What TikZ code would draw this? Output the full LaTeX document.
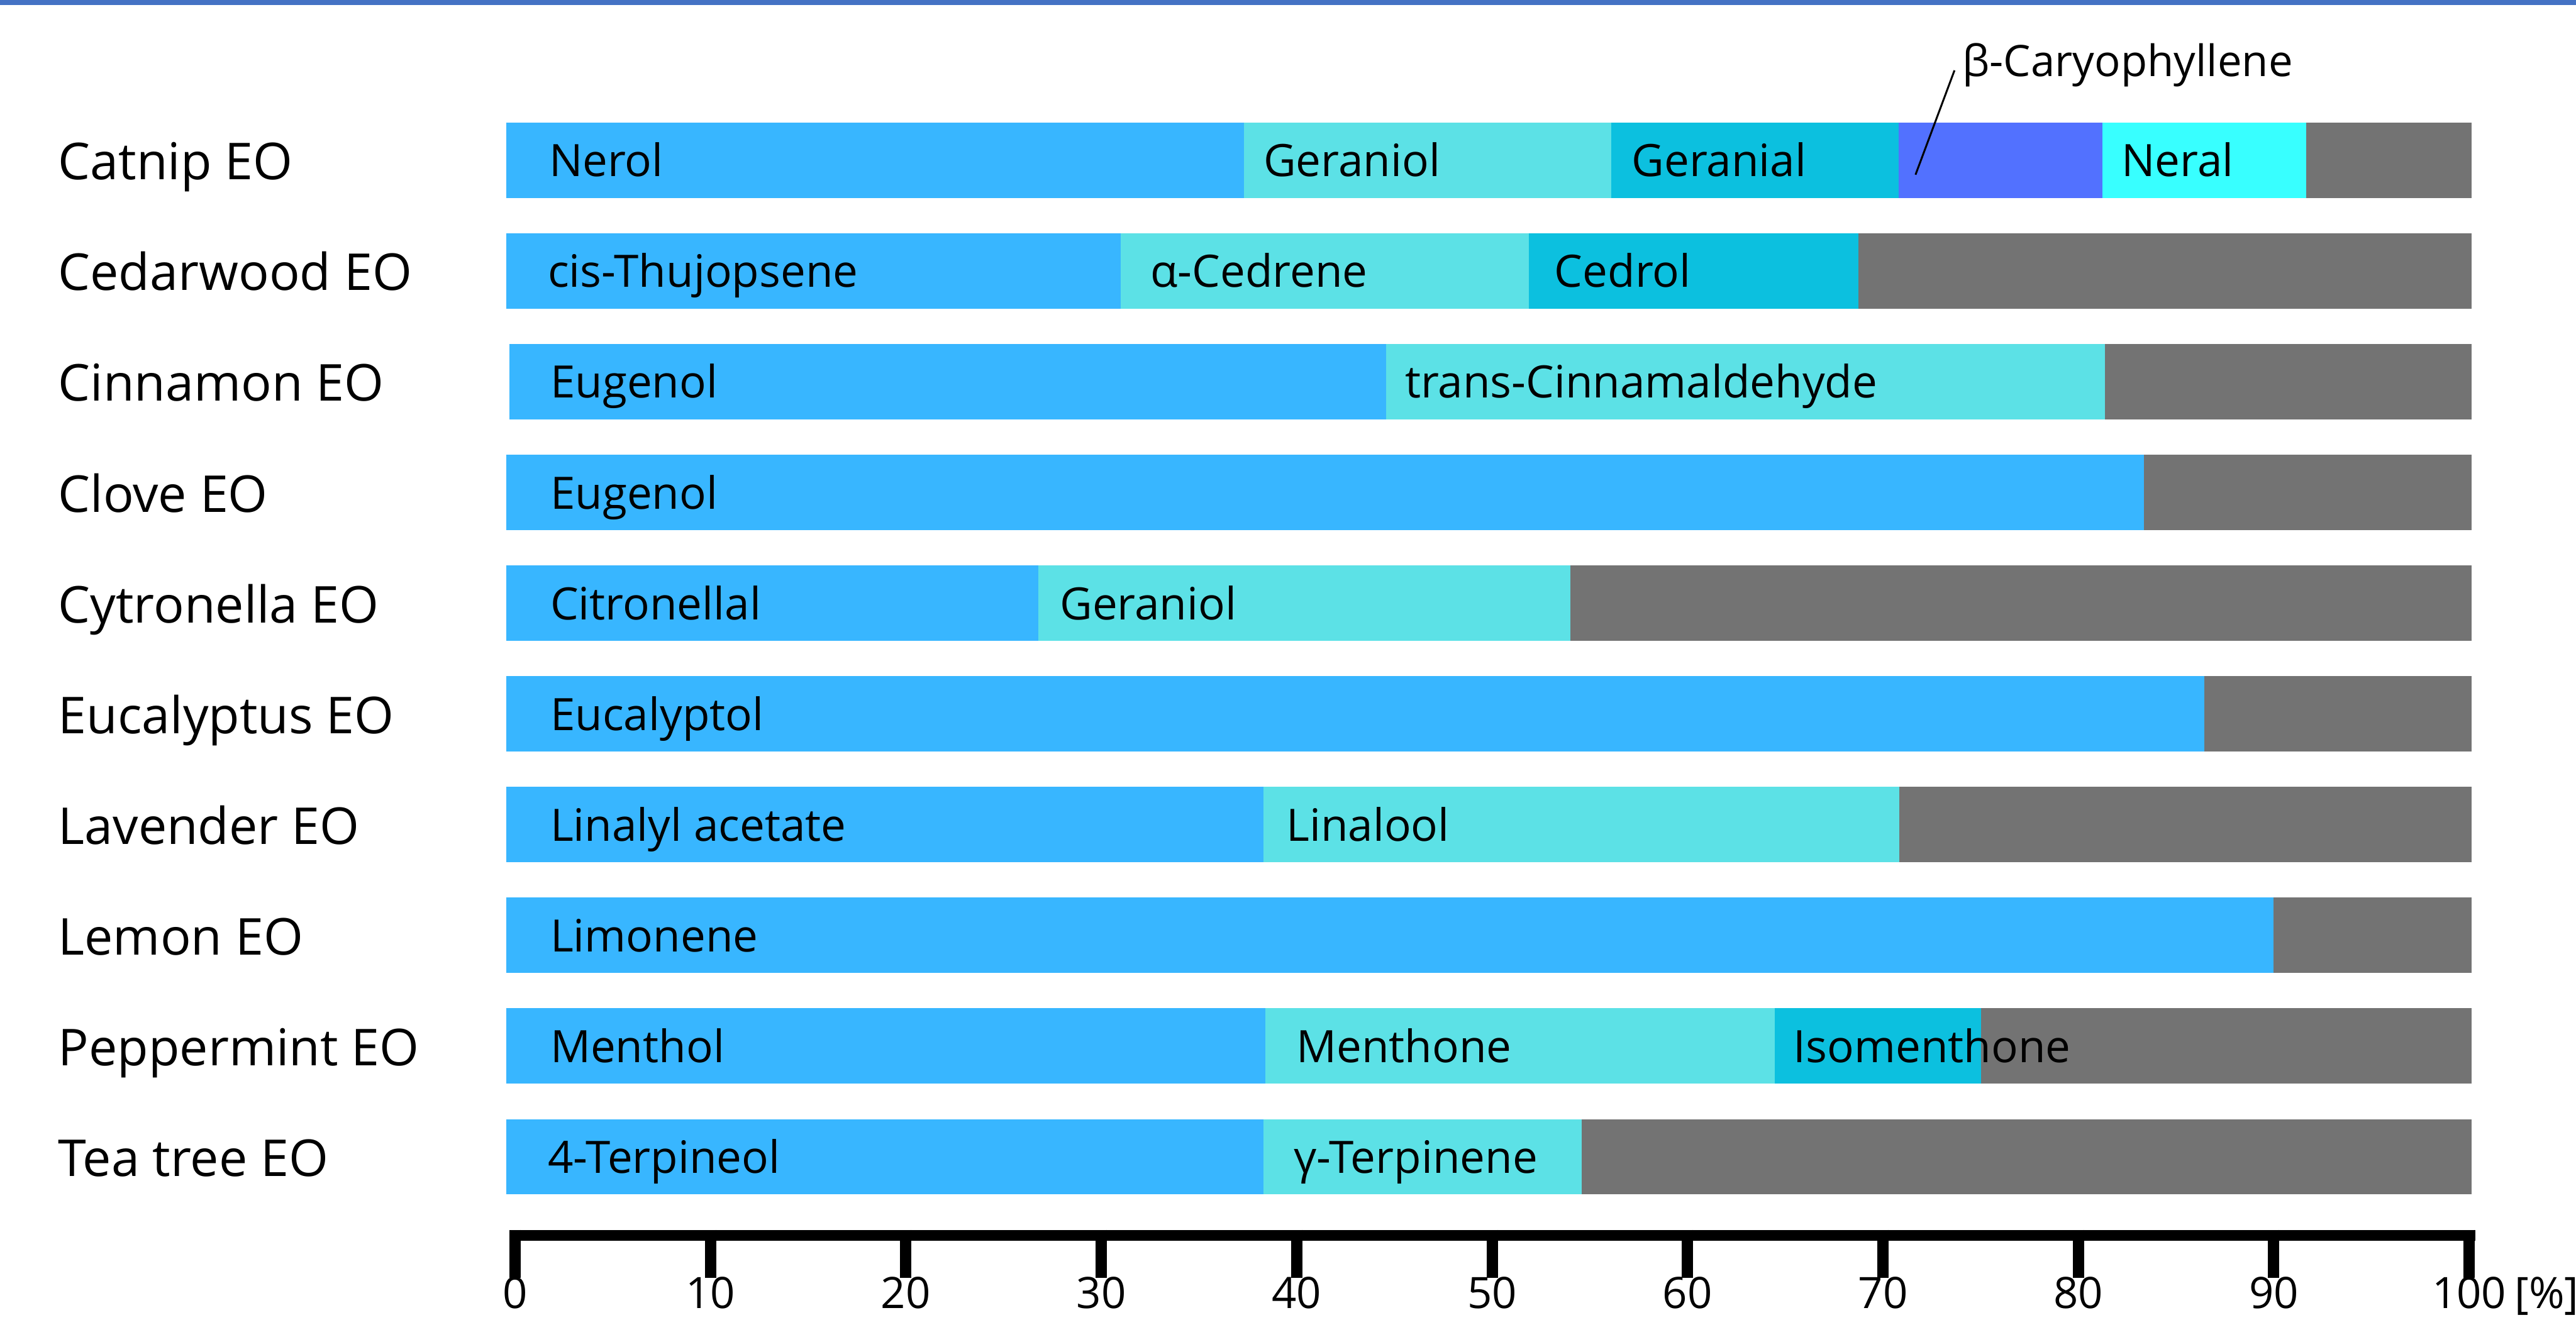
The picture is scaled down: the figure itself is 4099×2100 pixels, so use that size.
\documentclass[tikz,border=0pt]{standalone}
\usepackage{fontspec}
\setmainfont{Open Sans}
\usepackage{xcolor}
\usetikzlibrary{positioning}
\definecolor{blueA}{HTML}{38B6FF}
\definecolor{tealB}{HTML}{5CE1E6}
\definecolor{cyanC}{HTML}{0CC0DF}
\definecolor{violD}{HTML}{5271FF}
\definecolor{aquaE}{HTML}{38FFFF}
\definecolor{restG}{HTML}{737373}
\definecolor{topline}{HTML}{4472C4}

\begin{document}
\begin{tikzpicture}[
  x=0.01cm, y=-0.01cm,
  rowlbl/.style={anchor=base west, inner sep=0, font=\fontsize{23pt}{27pt}\selectfont},
  seglbl/.style={anchor=base west, inner sep=0, font=\fontsize{20.2pt}{24pt}\selectfont},
  ticklbl/.style={anchor=base, inner sep=0, font=\fontsize{19.6pt}{24pt}\selectfont},
  tick/.style={line width=0.18cm},
  axisline/.style={line width=0.17cm},
  leader/.style={line width=0.85pt}
]
  \useasboundingbox (0,0) rectangle (4099,2100);
  \fill[topline] (0,0) rectangle (4099,8);

  % bars: row/from/to/colour
  \foreach \r/\a/\b/\c in {
    0/806/1979/blueA, 0/1979/2564/tealB, 0/2564/3021/cyanC, 0/3021/3345/violD, 0/3345/3670/aquaE, 0/3670/3933/restG,
    1/806/1783/blueA, 1/1783/2433/tealB, 1/2433/2957/cyanC, 1/2957/3933/restG,
    2/811/2206/blueA, 2/2206/3349/tealB, 2/3349/3933/restG,
    3/806/3411/blueA, 3/3411/3933/restG,
    4/806/1652/blueA, 4/1652/2499/tealB, 4/2499/3933/restG,
    5/806/3508/blueA, 5/3508/3933/restG,
    6/806/2010/blueA, 6/2010/3022/tealB, 6/3022/3933/restG,
    7/806/3618/blueA, 7/3618/3933/restG,
    8/806/2013/blueA, 8/2013/2824/tealB, 8/2824/3152/cyanC, 8/3152/3933/restG,
    9/806/2010/blueA, 9/2010/2517/tealB, 9/2517/3933/restG}
    \fill[\c] (\a,{195+176.2*\r}) rectangle (\b,{315+176.2*\r});

  % oil names
  \foreach \r/\t in {0/Catnip EO, 1/Cedarwood EO, 2/Cinnamon EO, 3/Clove EO,
    4/Cytronella EO, 5/Eucalyptus EO, 6/Lavender EO, 7/Lemon EO,
    8/Peppermint EO, 9/Tea tree EO}
    \node[rowlbl] (oil\r) at (92,{286+176.2*\r}) {\t};

  % compounds
  \foreach \r/\x/\t [count=\k] in {
    0/873/Nerol, 0/2010/Geraniol, 0/2596/Geranial, 0/3375/Neral,
    1/871/cis-Thujopsene, 1/1830/α-Cedrene, 1/2473/Cedrol,
    2/875/Eugenol, 2/2235/trans-Cinnamaldehyde,
    3/875/Eugenol,
    4/875/Citronellal, 4/1686/Geraniol,
    5/875/Eucalyptol,
    6/875/Linalyl acetate, 6/2046/Linalool,
    7/875/Limonene,
    8/875/Menthol, 8/2062/Menthone, 8/2853/Isomenthone,
    9/871/4-Terpineol, 9/2058/γ-Terpinene}
    \node[seglbl] (cmp\k) at (\x,{281+176.2*\r}) {\t};

  \node[seglbl, font=\fontsize{19.6pt}{24pt}\selectfont] (bcar) at (3122,122) {β-Caryophyllene};
  \coordinate (bcarpt) at (3048,278);
  \draw[leader] ([shift={(-12,-10)}]bcar.base west) -- (bcarpt);

  % axis
  \draw[axisline] (811,1965.5) -- (3939,1965.5);
  \foreach \k [evaluate=\k as \v using int(10*\k)] in {0,...,10}{
    \draw[tick] ({819.5+310.95*\k},1957) -- ({819.5+310.95*\k},2033);
    \node[ticklbl] (t\k) at ({819.5+310.95*\k},2082) {\v};
  }
  \node[ticklbl, base right=0.12cm of t10] (unit) {[\%]};
\end{tikzpicture}
\end{document}
